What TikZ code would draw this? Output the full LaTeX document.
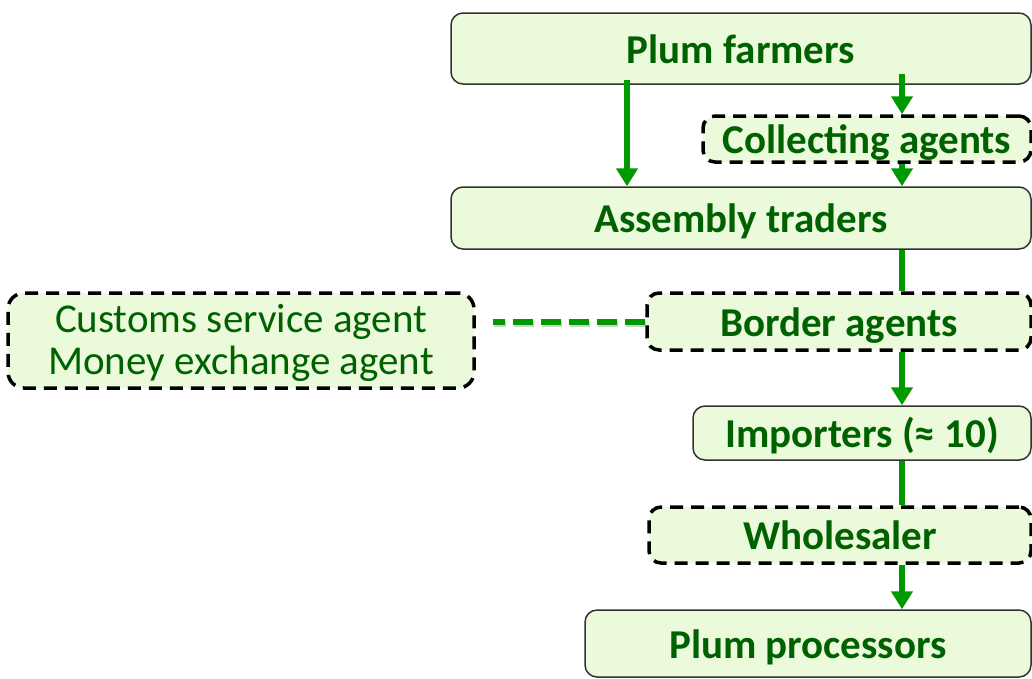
\documentclass[tikz,border=0pt]{standalone}
\usepackage{fontspec}
\setmainfont{Carlito}
\usetikzlibrary{arrows.meta,calc}
\definecolor{boxfill}{RGB}{236,250,220}
\definecolor{boxtext}{RGB}{0,97,0}
\definecolor{flow}{RGB}{0,153,0}
\definecolor{edgegray}{RGB}{50,50,50}

\begin{document}
\begin{tikzpicture}[x=1pt,y=-1pt,
  box/.style={rectangle, rounded corners=12pt, fill=boxfill, text=boxtext,
    font=\fontsize{41}{49}\selectfont\bfseries, inner sep=0pt, anchor=center,
    text height=37pt, text depth=8pt},
  solidbox/.style={box, draw=edgegray, line width=1.5pt},
  dashbox/.style={box, draw=black, line width=3.5pt, dash pattern=on 13pt off 8pt},
  flowline/.style={draw=flow, line width=6pt},
  flowarrow/.style={flowline, -{Triangle[width=21pt,length=18pt]}},
  linkline/.style={line width=6pt, dash pattern=on 20pt off 8pt}]
\useasboundingbox (0,0) rectangle (1032,678);

% actors of the chain
\node[solidbox, minimum width=580pt, minimum height=71pt] (pf) at (741,48.5) {Plum farmers};
\node[dashbox,  minimum width=328pt, minimum height=46pt] (ca) at (867,139) {Collecting agents};
\node[solidbox, minimum width=580pt, minimum height=62pt] (at) at (741,218) {Assembly traders};
\node[dashbox,  minimum width=384pt, minimum height=57pt] (ba) at (839,321.5) {Border agents};
\node[dashbox,  minimum width=466pt, minimum height=95pt, rounded corners=16pt,
      font=\fontsize{41}{42}\selectfont, align=center,
      text height=77pt, text depth=8.5pt] (cs) at (241,340.5)
      {Customs service agent\\Money exchange agent};
\node[solidbox, minimum width=338pt, minimum height=54pt] (im) at (862,433) {Importers (≈ 10)};
\node[dashbox,  minimum width=382pt, minimum height=56pt] (wh) at (840,535) {Wholesaler};
\node[solidbox, minimum width=446pt, minimum height=67pt] (pp) at (808,643.5) {Plum processors};

% flow columns
\coordinate (colL) at (627,0);
\coordinate (colR) at (902,0);

% product flows
\draw[flowarrow] ([yshift=5pt]pf.south -| colL) -- (at.north -| colL);
\draw[flowarrow] ([yshift=11pt]pf.south -| colR) -- (ca.north -| colR);
\draw[flowarrow] (ca.south -| colR) -- (at.north -| colR);
\draw[flowline]  (at.south -| colR) -- (ba.north -| colR);
\draw[flowarrow] (ba.south -| colR) -- (im.north -| colR);
\draw[flowline]  (im.south -| colR) -- (wh.north -| colR);
\draw[flowarrow] (wh.south -| colR) -- (pp.north -| colR);

% service link to the border agents
\draw[linkline, draw=black, opacity=0.18, transform canvas={xshift=1pt,yshift=-2pt}]
  (ba.west) -- ([xshift=17pt]cs.east |- ba.west);
\draw[linkline, draw=flow] (ba.west) -- ([xshift=17pt]cs.east |- ba.west);
\end{tikzpicture}
\end{document}
